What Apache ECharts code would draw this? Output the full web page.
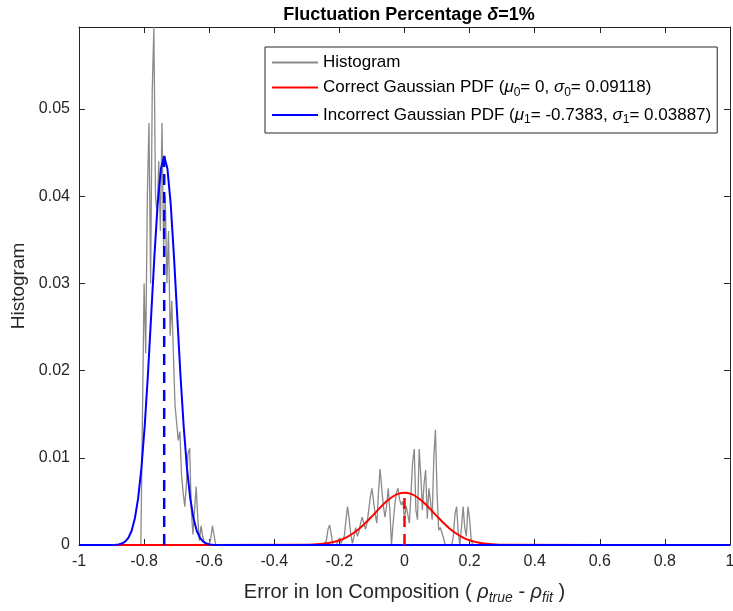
<!DOCTYPE html>
<html>
<head>
<meta charset="utf-8">
<script src="https://cdn.jsdelivr.net/npm/echarts@6/dist/echarts.min.js"></script>
<style>
html,body{margin:0;padding:0;background:#fff;overflow:hidden;}
#chart{width:733px;height:611px;}
</style>
</head>
<body>
<div id="chart"></div>
<script>
// ---- Data ----
var xTicks = [-1, -0.8, -0.6, -0.4, -0.2, 0, 0.2, 0.4, 0.6, 0.8, 1];
var yTicks = [0, 0.01, 0.02, 0.03, 0.04, 0.05];

// Histogram (normalised counts), left cluster: bins start -0.810, width 0.005
var histLeftStart = -0.810;
var histRightStart = -0.250;
var histBinWidth = 0.005;
var histLeftValues = [
  0, 0, 0.030, 0.022, 0.040, 0.0484, 0.030, 0.052, 0.0594, 0.040,
  0.038, 0.044, 0.036, 0.0484, 0.034, 0.040, 0.030, 0.036, 0.024, 0.028,
  0.022, 0.016, 0.014, 0.012, 0.013, 0.008, 0.006, 0.0044, 0.007, 0.0105,
  0.0111, 0.004, 0.0012, 0.004, 0.0067, 0.003, 0.0005, 0.0022, 0.0010, 0.0003,
  0, 0, 0, 0.0008, 0.0022, 0.0023, 0
];
// Histogram, right cluster: bins start -0.250, width 0.005
var histRightValues = [
  0, 0, 0.0005, 0.0018, 0.0023, 0.0012, 0, 0, 0, 0.0004,
  0.0008, 0.0002, 0, 0.0010, 0.0028, 0.0044, 0.0030, 0.0012, 0.0002, 0.0010,
  0.0020, 0.0010, 0.0015, 0.0025, 0.0032, 0.0030, 0.0018, 0.0025, 0.0040, 0.0055,
  0.0065, 0.0050, 0.0035, 0.0025, 0.0060, 0.0087, 0.0065, 0.0045, 0.0032, 0.0045,
  0.0065, 0.0040, 0.0000, 0.0025, 0.0045, 0.0060, 0.0065, 0.0052, 0.0046, 0.0050,
  0.0030, 0.0045, 0.0035, 0.0025, 0.0060, 0.0095, 0.0110, 0.0040, 0.0029, 0.0110,
  0.0080, 0.0040, 0.0070, 0.0086, 0.0030, 0.0065, 0.0050, 0.0029, 0.0100, 0.0132,
  0.0060, 0.0017, 0.0020, 0.0022, 0.0008, 0, 0, 0, 0, 0,
  0.0010, 0.0035, 0.0044, 0.0015, 0, 0.0020, 0.0044, 0.0020, 0.0010, 0.0044,
  0.0030, 0.0005, 0, 0
];

// Correct Gaussian PDF (mu0 = 0, sigma0 = 0.09118), read values
var correctX = [-1, -0.30, -0.28, -0.26, -0.24, -0.22, -0.20, -0.18, -0.16, -0.14, -0.12, -0.10, -0.08, -0.06, -0.04, -0.02, 0,
                0.02, 0.04, 0.06, 0.08, 0.10, 0.12, 0.14, 0.16, 0.18, 0.20, 0.22, 0.24, 0.26, 0.28, 0.30, 1];
var correctY = [0, 0.000027, 0.000054, 0.000103, 0.000188, 0.000327, 0.000541, 0.000855, 0.001287, 0.001846, 0.002524, 0.003288, 0.004083, 0.004832, 0.00545, 0.005857, 0.0060,
                0.005857, 0.00545, 0.004832, 0.004083, 0.003288, 0.002524, 0.001846, 0.001287, 0.000855, 0.000541, 0.000327, 0.000188, 0.000103, 0.000054, 0.000027, 0];

// Incorrect Gaussian PDF (mu1 = -0.7383, sigma1 = 0.03887), read values
var incorrectX = [-1, -0.8983, -0.8883, -0.8783, -0.8683, -0.8583, -0.8483, -0.8383, -0.8283, -0.8183, -0.8083, -0.7983, -0.7883, -0.7783, -0.7683, -0.7583, -0.7483, -0.7383,
                  -0.7283, -0.7183, -0.7083, -0.6983, -0.6883, -0.6783, -0.6683, -0.6583, -0.6483, -0.6383, -0.6283, -0.6183, -0.6083, -0.5983, -0.5883, -0.5783, 1];
var incorrectY = [0, 0.00001, 0.000026, 0.000068, 0.000166, 0.00038, 0.000814, 0.00163, 0.00306, 0.00537, 0.00881, 0.01356, 0.0195, 0.0263, 0.03312, 0.0391, 0.04315, 0.0446,
                  0.04315, 0.0391, 0.03312, 0.0263, 0.0195, 0.01356, 0.00881, 0.00537, 0.00306, 0.00163, 0.000814, 0.00038, 0.000166, 0.000068, 0.000026, 0.00001, 0];

// Means and peak heights (dashed markers)
var mu0 = 0, peak0 = 0.0060;
var mu1 = -0.7383, peak1 = 0.0446;

// ---- Build series data ----
function zip(xs, ys) { return xs.map(function (x, i) { return [x, ys[i]]; }); }
function bins(start, vals) {
  return vals.map(function (v, i) { return [Number((start + i * histBinWidth).toFixed(4)), v]; });
}
var histData = [[-1, 0]].concat(bins(histLeftStart, histLeftValues), bins(histRightStart, histRightValues), [[1, 0]]);

var FONT = 'Liberation Sans, Arial, Helvetica, sans-serif';
var AX = '#262626';

var chart = echarts.init(document.getElementById('chart'), null, { renderer: 'canvas', width: 733, height: 611 });

var axisCommonX = {
  type: 'value', min: -1, max: 1, interval: 0.2,
  axisLine: { onZero: false, lineStyle: { color: AX, width: 1 } },
  axisTick: { inside: true, length: 6, lineStyle: { color: AX, width: 1 } },
  splitLine: { show: false }
};
var axisCommonY = {
  type: 'value', min: 0, max: 0.0594, interval: 0.01,
  axisLine: { onZero: false, lineStyle: { color: AX, width: 1 } },
  axisTick: { inside: true, length: 6, lineStyle: { color: AX, width: 1 } },
  splitLine: { show: false }
};

var option = {
  animation: false,
  backgroundColor: '#ffffff',
  textStyle: { fontFamily: FONT },
  title: {
    text: 'Fluctuation Percentage {d|δ}=1%',
    left: 404, top: 1, textAlign: 'center',
    textStyle: {
      fontFamily: FONT, fontSize: 18, fontWeight: 'bold', color: '#000',
      rich: { d: { fontFamily: FONT, fontSize: 18, fontWeight: 'bold', fontStyle: 'italic', color: '#000' } }
    }
  },
  grid: { left: 79, top: 27, right: 3, bottom: 66, containLabel: false, outerBoundsMode: 'none' },
  legend: {
    orient: 'vertical',
    left: 265, top: 47,
    data: ['Histogram', 'Correct Gaussian PDF', 'Incorrect Gaussian PDF'],
    backgroundColor: '#ffffff',
    borderColor: AX, borderWidth: 1,
    padding: [7, 6, 7, 6],
    itemGap: 8,
    itemWidth: 46, itemHeight: 12,
    itemStyle: { opacity: 0 },
    formatter: function (name) {
      if (name === 'Correct Gaussian PDF') return 'Correct Gaussian PDF ({i|μ}{s|0}= 0, {i|σ}{s|0}= 0.09118)';
      if (name === 'Incorrect Gaussian PDF') return 'Incorrect Gaussian PDF ({i|μ}{s|1}= -0.7383, {i|σ}{s|1}= 0.03887)';
      return name;
    },
    textStyle: {
      fontFamily: FONT, fontSize: 17, color: '#000',
      rich: {
        i: { fontFamily: FONT, fontSize: 17, fontStyle: 'italic', color: '#000' },
        s: { fontFamily: FONT, fontSize: 12, color: '#000', padding: [10, 0, 0, 0] }
      }
    }
  },
  xAxis: [
    Object.assign({}, axisCommonX, {
      position: 'bottom',
      axisLabel: {
        margin: 9, fontSize: 16, color: AX, fontFamily: FONT,
        formatter: function (v) { return String(Math.round(v * 10) / 10); }
      },
      name: 'Error in Ion Composition ( {r|ρ}{s|true} - {r|ρ}{s|fit} )',
      nameLocation: 'middle', nameGap: 35,
      nameTextStyle: {
        fontFamily: FONT, fontSize: 20, color: AX,
        rich: {
          r: { fontFamily: FONT, fontSize: 20, fontStyle: 'italic', color: AX },
          s: { fontFamily: FONT, fontSize: 14, fontStyle: 'italic', color: AX, padding: [11, 0, 0, 0] }
        }
      }
    }),
    Object.assign({}, axisCommonX, { position: 'top', axisLabel: { show: false } })
  ],
  yAxis: [
    Object.assign({}, axisCommonY, {
      position: 'left',
      axisLabel: {
        margin: 9, fontSize: 16, color: AX, fontFamily: FONT,
        formatter: function (v) { return v > 0.0555 ? '' : String(Math.round(v * 100) / 100); }
      },
      name: 'Histogram', nameLocation: 'middle', nameGap: 44,
      nameTextStyle: { fontFamily: FONT, fontSize: 19, color: AX }
    }),
    Object.assign({}, axisCommonY, { position: 'right', axisLabel: { show: false } })
  ],
  series: [
    {
      name: 'Histogram', type: 'line', data: histData, symbol: 'none',
      xAxisIndex: 0, yAxisIndex: 0,
      lineStyle: { color: '#8a8a8a', width: 1.3 }, itemStyle: { color: '#8a8a8a', opacity: 0 }
    },
    {
      name: 'Correct Gaussian PDF', type: 'line', data: zip(correctX, correctY), symbol: 'none', smooth: 0.3,
      xAxisIndex: 0, yAxisIndex: 0,
      lineStyle: { color: '#ff0000', width: 2 }, itemStyle: { color: '#ff0000', opacity: 0 }
    },
    {
      name: 'Incorrect Gaussian PDF', type: 'line', data: zip(incorrectX, incorrectY), symbol: 'none',
      xAxisIndex: 0, yAxisIndex: 0,
      lineStyle: { color: '#0000ff', width: 2 }, itemStyle: { color: '#0000ff', opacity: 0 }
    },
    {
      name: 'mu0', type: 'line', data: [[mu0, 0], [mu0, peak0]], symbol: 'none',
      xAxisIndex: 0, yAxisIndex: 0,
      lineStyle: { color: '#ff0000', width: 2.5, type: [11, 7] }
    },
    {
      name: 'mu1', type: 'line', data: [[mu1, 0], [mu1, peak1]], symbol: 'none',
      xAxisIndex: 0, yAxisIndex: 0,
      lineStyle: { color: '#0000ff', width: 2.5, type: [11, 7] }
    }
  ]
};
chart.setOption(option);
</script>
</body>
</html>
